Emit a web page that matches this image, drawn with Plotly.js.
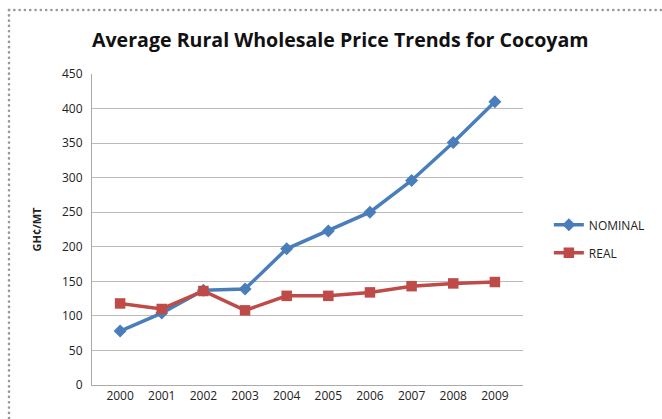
<!DOCTYPE html>
<html><head><meta charset="utf-8">
<script src="https://cdn.plot.ly/plotly-3.0.1.min.js"></script>
<style>
html,body{margin:0;padding:0;background:#fff;}
#wrap{position:relative;width:662px;height:419px;overflow:hidden;}
#frame{position:absolute;left:0;top:0;pointer-events:none;}
#chart{position:absolute;left:0;top:0;width:662px;height:419px;}
</style></head>
<body><div id="wrap"><div id="chart"></div>
<svg id="frame" width="662" height="419"><g stroke="#999" stroke-width="2.6" stroke-linecap="round" stroke-dasharray="0.1 5.2" fill="none">
<line x1="9" y1="10" x2="662" y2="10"/><line x1="9" y1="10" x2="9" y2="419"/></g></svg>
</div>
<script>
const years = ['2000','2001','2002','2003','2004','2005','2006','2007','2008','2009'];
const nominal = [78,104,137,139,197,223,250,296,351,410];
const real = [118,110,136,108,129,129,134,143,147,149];

const traces = [
 {x: years, y: nominal, name: 'NOMINAL', legendgroup: 'a', type: 'scatter', mode: 'lines+markers',
  line: {color: '#4a7ebb', width: 3.5}, marker: {symbol: 'diamond', size: 10, color: '#4a7ebb'}},
 {x: years, y: real, name: 'REAL', legendgroup: 'b', type: 'scatter', mode: 'lines+markers',
  line: {color: '#be4b48', width: 3.5}, marker: {symbol: 'square', size: 10.5, color: '#be4b48'}}
];
const layout = {
 width: 662, height: 419,
 margin: {l: 92, r: 137, t: 74, b: 34},
 paper_bgcolor: 'rgba(0,0,0,0)', plot_bgcolor: '#fff',
 font: {family: 'Open Sans, sans-serif', size: 12, color: '#222'},
 title: {text: '<b>Average Rural Wholesale Price Trends for Cocoyam</b>', font: {size: 19.6, color: '#111'}, x: 0.514, xanchor: 'center', y: 0.905, yanchor: 'middle'},
 xaxis: {type: 'category', showgrid: false, showline: true, linecolor: '#aaa', linewidth: 1, ticks: '', tickfont: {size: 12}, fixedrange: true},
 yaxis: {range: [0, 450], dtick: 50, showgrid: true, gridcolor: '#bbb', gridwidth: 1, showline: true, linecolor: '#aaa', zeroline: false, ticks: '', tickfont: {size: 12}, ticklabelstandoff: 6,
  title: {text: '<b>GH¢/MT</b>', font: {size: 11}, standoff: 18}},
 legend: {x: 1.06, xanchor: 'left', y: 0.47, yanchor: 'middle', font: {size: 12}, traceorder: 'grouped', tracegroupgap: 9, itemwidth: 30},
 showlegend: true
};
Plotly.newPlot('chart', traces, layout, {displayModeBar: false, staticPlot: true});
</script></body></html>
